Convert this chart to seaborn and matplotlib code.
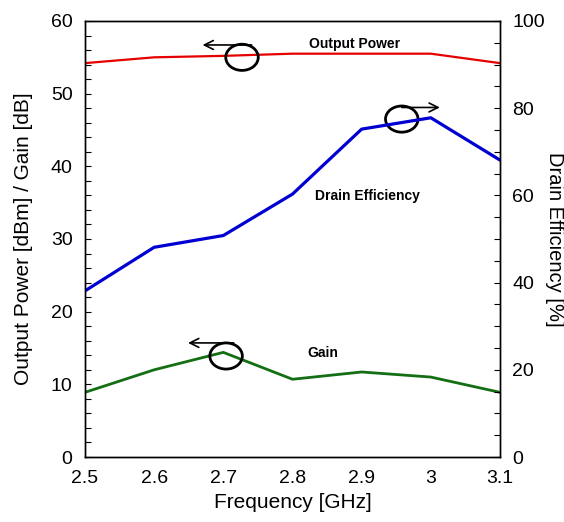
import matplotlib
matplotlib.use("Agg")
import matplotlib.pyplot as plt
from matplotlib.patches import Ellipse
from matplotlib.ticker import MultipleLocator
import pandas as pd
import seaborn as sns

sns.set_style("ticks")
plt.rcParams['font.family'] = ['Liberation Sans', 'DejaVu Sans']
plt.rcParams['text.color'] = 'black'
plt.rcParams['axes.labelcolor'] = 'black'
plt.rcParams['xtick.color'] = 'black'
plt.rcParams['ytick.color'] = 'black'

# values
freq = [2.5, 2.6, 2.7, 2.8, 2.9, 3.0, 3.1]
output_power = [54.2, 55.0, 55.2, 55.5, 55.5, 55.5, 54.2]
gain = [8.9, 12.0, 14.4, 10.7, 11.7, 11.0, 8.9]
drain_eff = [38.1, 48.1, 50.8, 60.3, 75.2, 77.8, 68.1]

df = pd.DataFrame({"Frequency": freq, "Pout": output_power,
                   "Gain": gain, "DE": drain_eff})

fig = plt.figure(figsize=(5.64, 5.22), dpi=100)
ax = fig.add_axes([0.1507, 0.1245, 0.7358, 0.8353])
ax2 = ax.twinx()

sns.lineplot(data=df, x="Frequency", y="Pout", ax=ax, color="#e60000", lw=1.6)
sns.lineplot(data=df, x="Frequency", y="Gain", ax=ax, color="#146e14", lw=2.0)
sns.lineplot(data=df, x="Frequency", y="DE", ax=ax2, color="#0000d2", lw=2.3)

ax.set_xlim(2.5, 3.1)
ax.set_ylim(0, 60)
ax2.set_ylim(0, 100)
ax.set_xticks(freq)
ax.set_xticklabels(["2.5", "2.6", "2.7", "2.8", "2.9", "3", "3.1"])
ax.yaxis.set_major_locator(MultipleLocator(10))
ax.yaxis.set_minor_locator(MultipleLocator(2))
ax2.yaxis.set_major_locator(MultipleLocator(20))
ax2.yaxis.set_minor_locator(MultipleLocator(5))

ax.tick_params(axis="x", length=0, pad=9, labelsize=14)
ax.tick_params(axis="y", which="both", direction="in", length=4, width=0.8,
               pad=9, labelsize=14, right=False)
ax2.tick_params(axis="y", which="both", direction="in", length=4, width=0.8,
                pad=9, labelsize=14)

ax.set_xlabel("Frequency [GHz]", fontsize=15, labelpad=5)
ax.set_ylabel("Output Power [dBm] / Gain [dB]", fontsize=15, labelpad=13)
ax2.set_ylabel("Drain Efficiency [%]", fontsize=14.5, rotation=270,
               va="bottom")
ax2.yaxis.set_label_coords(1.108, 0.5)

for a in (ax, ax2):
    for s in a.spines.values():
        s.set_linewidth(1.0)
        s.set_color("black")

# labels on the curves
ax.text(2.89, 56.8, "Output Power", fontsize=10, fontweight="bold",
        ha="center", va="center")
ax.text(2.909, 35.9, "Drain Efficiency", fontsize=10, fontweight="bold",
        ha="center", va="center")
ax.text(2.844, 14.3, "Gain", fontsize=10, fontweight="bold",
        ha="center", va="center")

# ellipses and arrows showing which axis each curve uses
for cx, cy, x0, x1, ya in [(2.727, 55.0, 2.741, 2.670, 56.7),
                           (2.958, 46.5, 2.958, 3.013, 48.1),
                           (2.704, 13.9, 2.715, 2.649, 15.7)]:
    ax.add_patch(Ellipse((cx, cy), 0.047, 3.6, fill=False, lw=2.0,
                         ec="black", zorder=5))
    ax.annotate("", xy=(x1, ya), xytext=(x0, ya),
                arrowprops=dict(arrowstyle="->", lw=1.2, color="black",
                                shrinkA=0, shrinkB=0, mutation_scale=16))

fig.savefig("out.png", dpi=100)
